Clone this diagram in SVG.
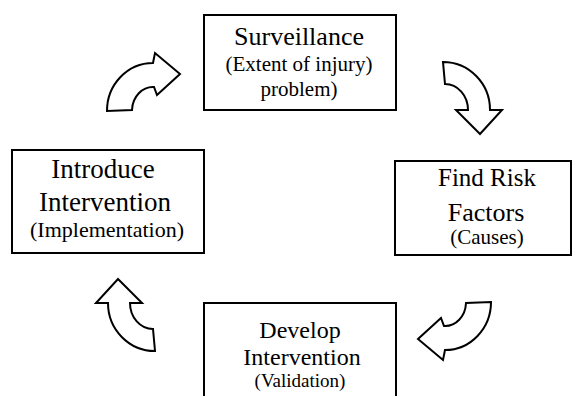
<svg xmlns="http://www.w3.org/2000/svg" xmlns:xlink="http://www.w3.org/1999/xlink" width="573" height="396" viewBox="0 0 573 396">
<style>
.box{fill:#fff;stroke:#000;stroke-width:2}
.arr{fill:#fff;stroke:#000;stroke-width:2;stroke-linejoin:miter}
text{font-family:"Liberation Serif","Times New Roman",serif;fill:#000;text-anchor:middle}
</style>
<defs>
<path id="arrA" class="arr" d="M107,111 A46,48 0 0 1 153,63 L155,53 L180,74 L157,95 L154,87 A21,24 0 0 0 132,110 Z"/>
<path id="arrB" class="arr" d="M118,279 L142,303 L130,303 A23,26 0 0 0 153,329 L155,351 A47,48 0 0 1 108,303 L96,303 Z"/>
</defs>
<rect width="573" height="396" fill="#fff"/>
<g id="connectors">
<use xlink:href="#arrA"/>
<use xlink:href="#arrB" transform="rotate(180 299 206.5)"/>
<use xlink:href="#arrA" transform="rotate(180 299 206.5)"/>
<use xlink:href="#arrB"/>
</g>
<g id="surveillance">
<rect class="box" x="204" y="15" width="192" height="95"/>
<text x="299" y="45" font-size="26">Surveillance</text>
<text x="299" y="71" font-size="21">(Extent of injury)</text>
<text x="299" y="96" font-size="21">problem)</text>
</g>
<g id="risk">
<rect class="box" x="395" y="161" width="176" height="94"/>
<text x="487" y="186" font-size="25">Find Risk</text>
<text x="486" y="221" font-size="26">Factors</text>
<text x="487" y="244" font-size="21">(Causes)</text>
</g>
<g id="develop">
<rect class="box" x="204" y="303" width="192" height="100"/>
<text x="300" y="338" font-size="24">Develop</text>
<text x="302" y="365" font-size="24">Intervention</text>
<text x="300" y="387" font-size="19">(Validation)</text>
</g>
<g id="introduce">
<rect class="box" x="12" y="150" width="192" height="103"/>
<text x="103" y="178" font-size="27">Introduce</text>
<text x="105" y="211" font-size="27">Intervention</text>
<text x="107" y="237" font-size="22">(Implementation)</text>
</g>
</svg>
